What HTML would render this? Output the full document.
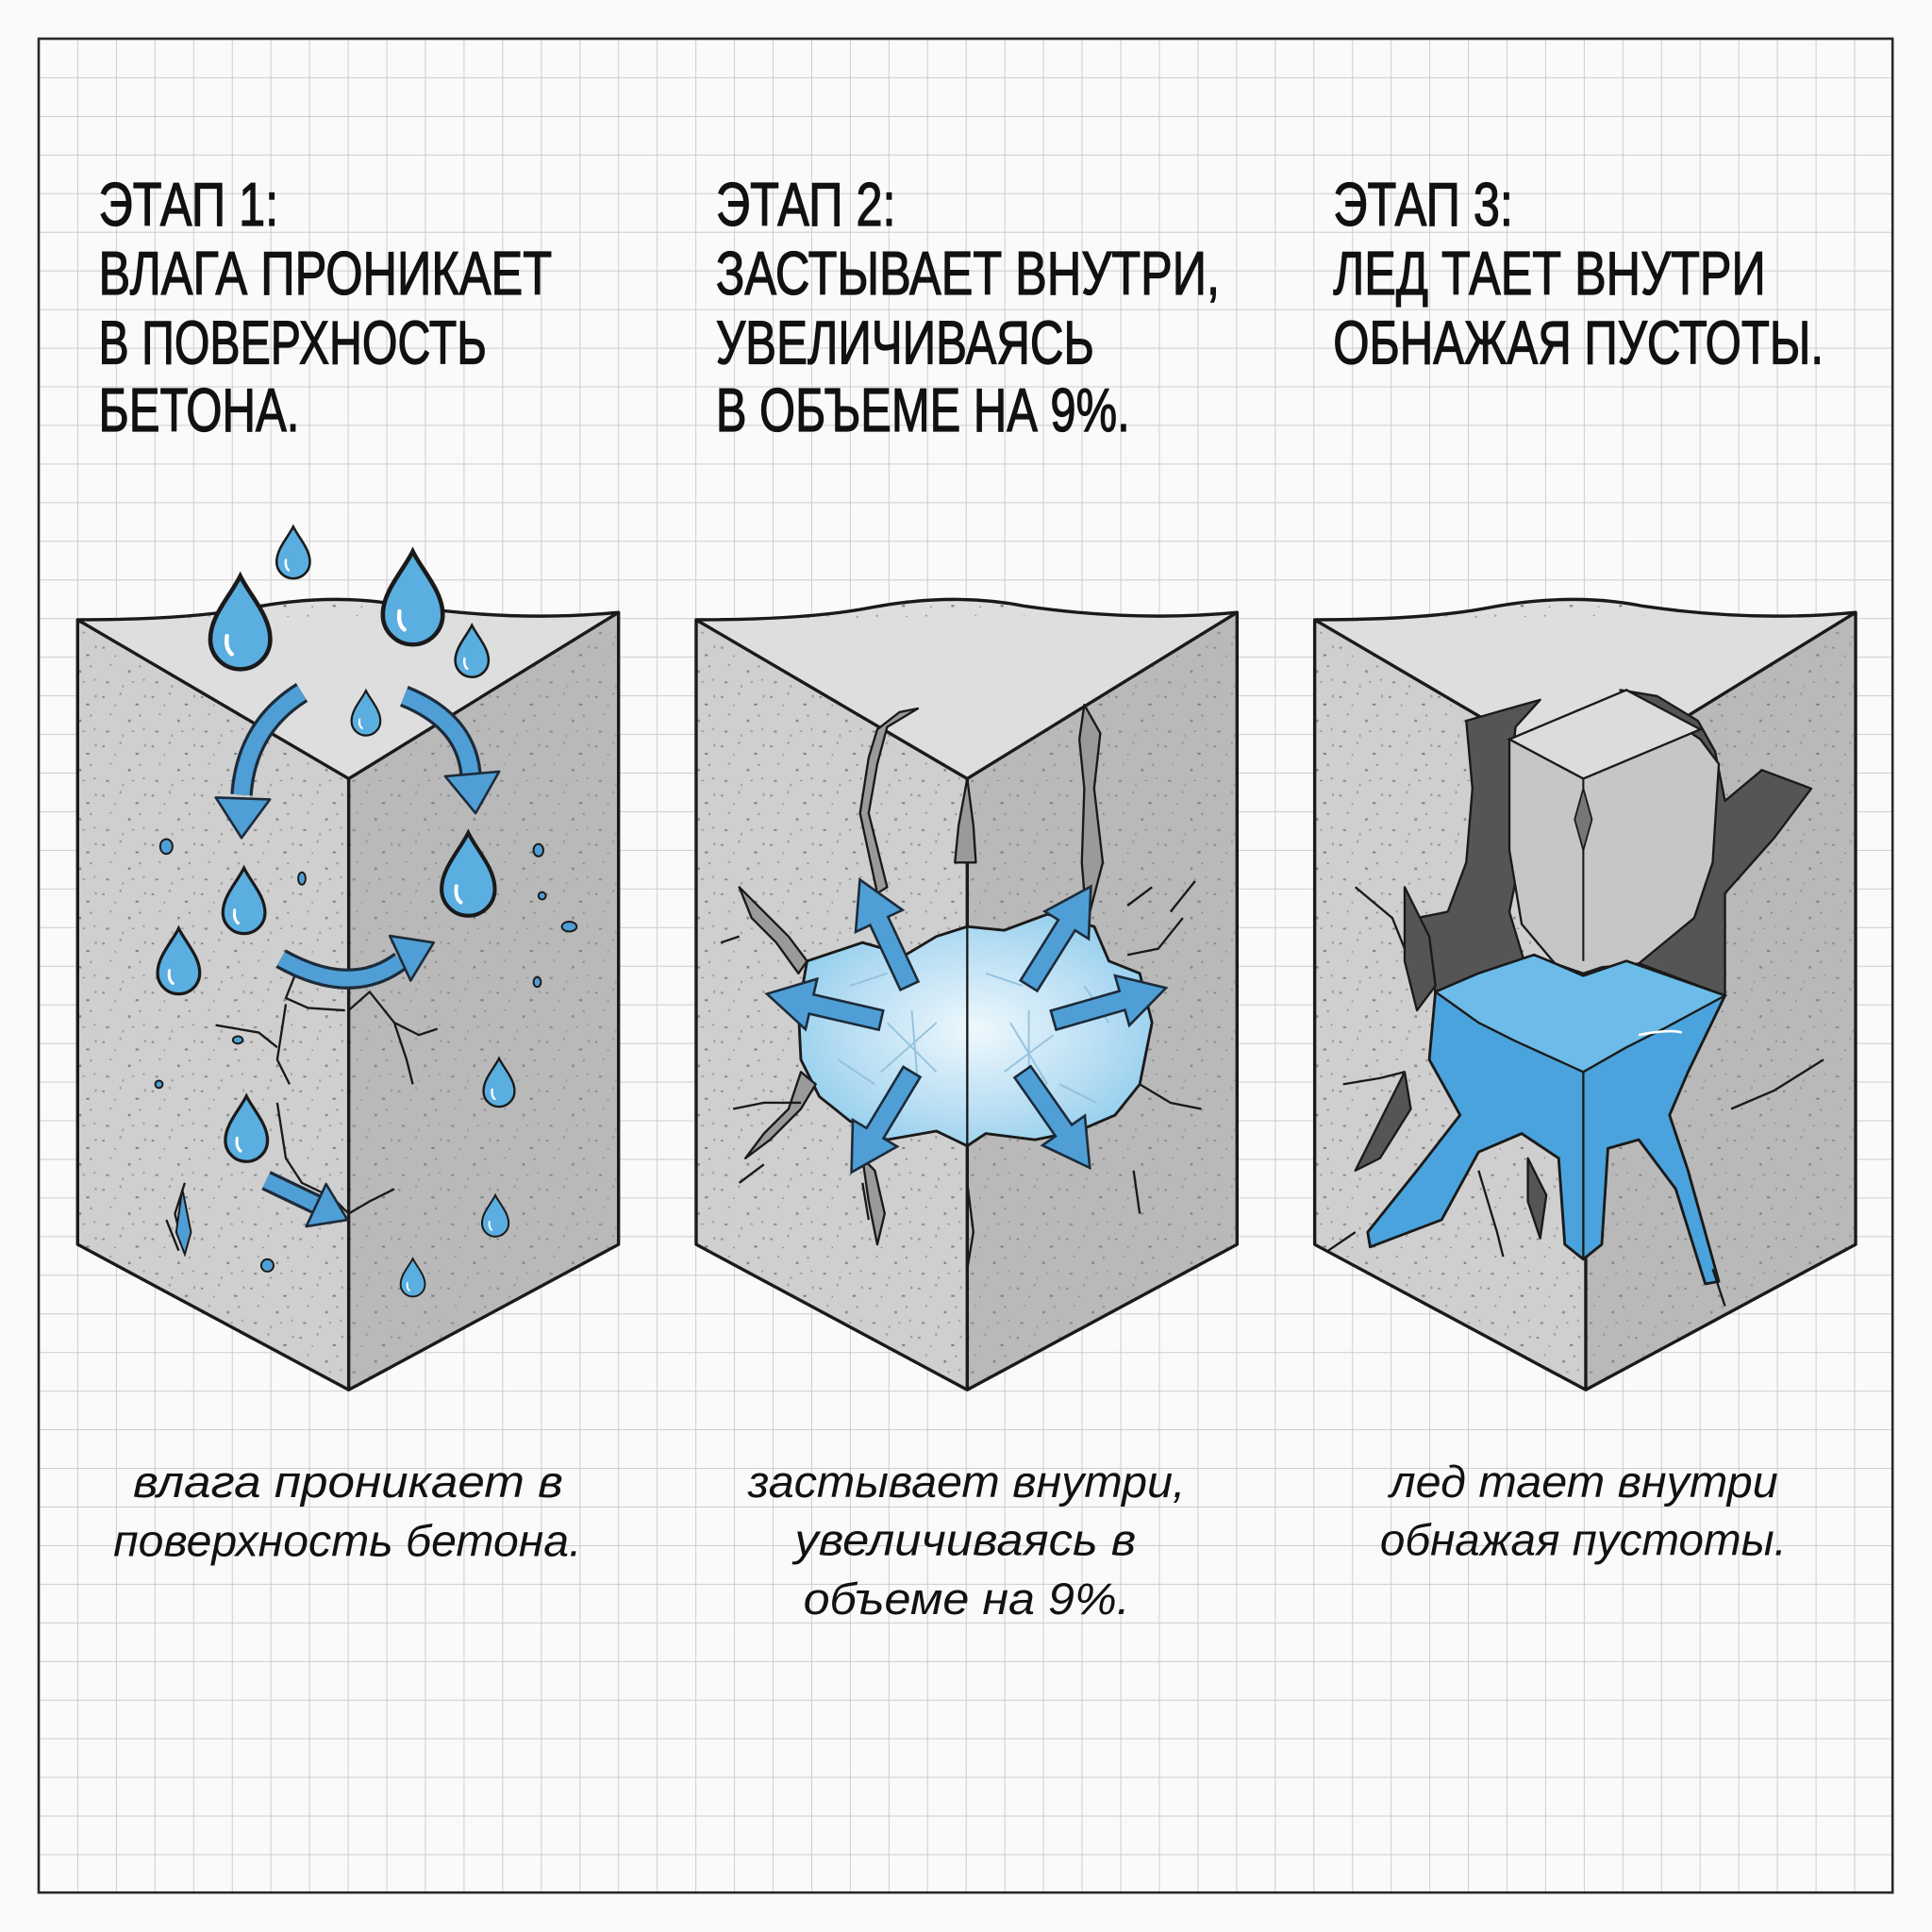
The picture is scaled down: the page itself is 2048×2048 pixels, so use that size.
<!DOCTYPE html>
<html><head><meta charset="utf-8">
<style>
html,body{margin:0;padding:0;background:#fafafa;}
svg{display:block;}
.t{font-family:"Liberation Sans Narrow","Liberation Sans",sans-serif;font-size:50px;fill:#111;stroke:#111;stroke-width:1;}
.c{font-family:"Liberation Sans",sans-serif;font-style:italic;font-size:36px;fill:#111;}
</style></head><body>
<svg width="2048" height="2048" viewBox="0 0 1568 1568" xmlns="http://www.w3.org/2000/svg">
<defs>
<pattern id="grid" x="31.4" y="31.4" width="31.35" height="31.35" patternUnits="userSpaceOnUse">
<path d="M0,0 H31.35 M0,0 V31.35" stroke="#cfcccf" stroke-width="1.5" fill="none"/>
</pattern>
<pattern id="spk" width="40" height="40" patternUnits="userSpaceOnUse">
<rect x="3" y="5" width="2" height="1.5" fill="#8a8a8a"/>
<rect x="17" y="2" width="1.5" height="2" fill="#9a9a9a"/>
<rect x="30" y="11" width="2.5" height="1.5" fill="#7d7d7d"/>
<rect x="9" y="19" width="1.5" height="1.5" fill="#999"/>
<rect x="24" y="24" width="2" height="2" fill="#888"/>
<rect x="36" y="31" width="1.5" height="1.5" fill="#999"/>
<rect x="6" y="33" width="2.5" height="1.5" fill="#8a8a8a"/>
<rect x="19" y="36" width="1.5" height="2" fill="#a0a0a0"/>
<rect x="33" y="20" width="1.5" height="1.5" fill="#8c8c8c"/>
<rect x="13" y="12" width="1" height="1" fill="#777"/>
<rect x="27" y="33" width="2" height="1" fill="#8f8f8f"/>
<rect x="37" y="4" width="1.5" height="2" fill="#999"/>
</pattern>
<radialGradient id="ice" cx="50%" cy="50%" r="60%">
<stop offset="0" stop-color="#eef8fd"/><stop offset="0.6" stop-color="#b8def3"/><stop offset="1" stop-color="#8ccbec"/>
</radialGradient>
<g id="drop"><path d="M0,-30 C6,-18 18,-6 18,8 A18,18 0 0 1 -18,8 C-18,-6 -6,-18 0,-30Z" fill="#5aaee0" stroke="#1a1a1a" stroke-width="2.6"/><path d="M-8,6 Q-9,14 -5,17" stroke="#fff" stroke-width="2.5" fill="none" stroke-linecap="round"/></g>
<g id="blk">
<path d="M63,503 L283,632 L283,1128 L63,1010Z" fill="#cfcfcf"/>
<path d="M283,632 L502,497 L502,1010 L283,1128Z" fill="#b9b9b9"/>
<path d="M63,503 Q150,503 200,494 Q270,480 330,492 Q420,505 502,497 L283,632Z" fill="#dedede"/>
<path d="M63,503 L283,632 L283,1128 L63,1010Z M283,632 L502,497 L502,1010 L283,1128Z M63,503 Q150,503 200,494 Q270,480 330,492 Q420,505 502,497" fill="url(#spk)"/>
<path d="M63,503 Q150,503 200,494 Q270,480 330,492 Q420,505 502,497 L502,1010 L283,1128 L63,1010Z M63,503 L283,632 L502,497 M283,632 L283,1128" fill="none" stroke="#1a1a1a" stroke-width="2.6" stroke-linejoin="round"/>
</g>
<g id="arw"><polygon points="0,-8 58,-8 58,-21 95,0 58,21 58,8 0,8" fill="#4f9fd6" stroke="#1d2b3a" stroke-width="2"/></g>
</defs>
<rect width="1568" height="1568" fill="#fafafa"/>
<rect x="31.4" y="31.4" width="1504.6" height="1504.6" fill="url(#grid)"/>
<rect x="31.4" y="31.4" width="1504.6" height="1504.6" fill="none" stroke="#2a2a2a" stroke-width="2"/>

<text class="t" x="80" y="183" textLength="146" lengthAdjust="spacingAndGlyphs">ЭТАП 1:</text>
<text class="t" x="80" y="239" textLength="368" lengthAdjust="spacingAndGlyphs">ВЛАГА ПРОНИКАЕТ</text>
<text class="t" x="80" y="295" textLength="315" lengthAdjust="spacingAndGlyphs">В ПОВЕРХНОСТЬ</text>
<text class="t" x="80" y="350" textLength="163" lengthAdjust="spacingAndGlyphs">БЕТОНА.</text>
<text class="t" x="581" y="183" textLength="146" lengthAdjust="spacingAndGlyphs">ЭТАП 2:</text>
<text class="t" x="581" y="239" textLength="409" lengthAdjust="spacingAndGlyphs">ЗАСТЫВАЕТ ВНУТРИ,</text>
<text class="t" x="581" y="295" textLength="307" lengthAdjust="spacingAndGlyphs">УВЕЛИЧИВАЯСЬ</text>
<text class="t" x="581" y="350" textLength="336" lengthAdjust="spacingAndGlyphs">В ОБЪЕМЕ НА 9%.</text>
<text class="t" x="1082" y="183" textLength="146" lengthAdjust="spacingAndGlyphs">ЭТАП 3:</text>
<text class="t" x="1082" y="239" textLength="351" lengthAdjust="spacingAndGlyphs">ЛЕД ТАЕТ ВНУТРИ</text>
<text class="t" x="1082" y="295" textLength="398" lengthAdjust="spacingAndGlyphs">ОБНАЖАЯ ПУСТОТЫ.</text>

<use href="#blk"/>
<g fill="none" stroke="#1a1a1a" stroke-width="1.8">
<path d="M240,790 L232,810 L250,818 L280,820 M175,832 L210,838 L225,850 M232,815 L225,860 L235,880 M283,820 L300,805 L320,830 L340,840 L355,835 M320,830 L330,860 L335,880"/>
<path d="M225,895 L232,940 L245,960 L270,972 L283,985 M283,985 L300,975 L320,965"/>
<path d="M150,960 L142,985 L148,1010 M135,990 L145,1015"/>
</g>
<path d="M148,965 L143,1000 L150,1018 L155,1000Z" fill="#4f9fd6" stroke="#1a1a1a" stroke-width="1.5"/>
<g fill="none" stroke-linecap="butt">
<path d="M245,562 Q200,590 196,645" stroke="#1d2b3a" stroke-width="18"/>
<path d="M245,562 Q200,590 196,645" stroke="#4f9fd6" stroke-width="13"/>
<path d="M328,565 Q378,585 382,628" stroke="#1d2b3a" stroke-width="18"/>
<path d="M328,565 Q378,585 382,628" stroke="#4f9fd6" stroke-width="13"/>
<path d="M228,778 Q285,810 325,780" stroke="#1d2b3a" stroke-width="17"/>
<path d="M228,778 Q285,810 325,780" stroke="#4f9fd6" stroke-width="12"/>
<path d="M216,958 L262,980" stroke="#1d2b3a" stroke-width="17"/>
<path d="M216,958 L262,980" stroke="#4f9fd6" stroke-width="12"/>
</g>
<g fill="#4f9fd6" stroke="#1d2b3a" stroke-width="2" stroke-linejoin="round">
<polygon points="-32,-22 0,0 -32,22" transform="translate(196,680) rotate(92)"/>
<polygon points="-32,-22 0,0 -32,22" transform="translate(386,660) rotate(85)"/>
<polygon points="-30,-20 0,0 -30,20" transform="translate(352,765) rotate(-25)"/>
<polygon points="-28,-19 0,0 -28,19" transform="translate(282,990) rotate(25)"/>
</g>
<use href="#drop" transform="translate(195,508) scale(1.35)"/>
<use href="#drop" transform="translate(238,450) scale(0.75)"/>
<use href="#drop" transform="translate(335,488) scale(1.35)"/>
<use href="#drop" transform="translate(383,530) scale(0.75)"/>
<use href="#drop" transform="translate(297,580) scale(0.65)"/>
<use href="#drop" transform="translate(380,712) scale(1.2)"/>
<use href="#drop" transform="translate(198,733) scale(0.95)"/>
<use href="#drop" transform="translate(145,782) scale(0.95)"/>
<use href="#drop" transform="translate(405,880) scale(0.7)"/>
<use href="#drop" transform="translate(200,918) scale(0.95)"/>
<use href="#drop" transform="translate(402,988) scale(0.6)"/>
<use href="#drop" transform="translate(335,1038) scale(0.55)"/>
<g fill="#4f9fd6" stroke="#1a1a1a" stroke-width="1.5">
<ellipse cx="135" cy="687" rx="5" ry="6"/><ellipse cx="245" cy="713" rx="3" ry="5"/><ellipse cx="437" cy="690" rx="4" ry="5"/>
<ellipse cx="462" cy="752" rx="6" ry="4"/><ellipse cx="436" cy="797" rx="3" ry="4"/><ellipse cx="217" cy="1027" rx="5" ry="5"/>
<ellipse cx="193" cy="844" rx="4" ry="3"/><ellipse cx="129" cy="880" rx="3" ry="3"/><ellipse cx="440" cy="727" rx="3" ry="3"/>
</g>

<g transform="translate(502,0)"><use href="#blk"/></g>
<path d="M655,780 L700,765 L735,775 L760,760 L785,752 L815,755 L850,742 L888,752 L900,780 L925,790 L935,830 L925,880 L905,905 L875,918 L840,925 L800,920 L785,930 L760,918 L720,925 L690,910 L665,890 L650,860 L648,820Z" fill="url(#ice)" stroke="#1a1a1a" stroke-width="2.2"/>
<g stroke="#8fbfdc" stroke-width="1.5" fill="none" opacity="0.9">
<path d="M720,830 L760,870 M740,820 L745,880 M760,830 L715,870 M820,830 L850,880 M835,820 L835,885 M855,840 L815,870 M690,800 L720,790 M880,800 L900,830 M680,860 L710,880 M860,880 L890,895 M800,790 L830,800"/>
</g>
<path d="M785,752 L785,930" stroke="#1a1a1a" stroke-width="1.8"/>
<g fill="#9a9a9a" stroke="#1a1a1a" stroke-width="1.8" stroke-linejoin="round">
<path d="M712,592 L730,578 L745,575 L720,590 L712,620 L705,660 L720,720 L712,725 L698,660 L705,615Z"/>
<path d="M880,572 L893,595 L888,640 L895,700 L882,750 L878,700 L880,640 L876,600Z"/>
<path d="M600,720 L625,745 L640,760 L655,780 L648,790 L630,765 L610,745Z"/>
<path d="M650,870 L640,900 L620,920 L605,940 L625,925 L650,900 L662,880Z"/>
<path d="M700,940 L705,975 L712,1010 L718,985 L710,950Z"/>
<path d="M785,632 L778,670 L775,700 L792,700 L790,670Z"/>
</g>
<g fill="none" stroke="#1a1a1a" stroke-width="1.8">
<path d="M595,900 L620,895 L650,895 M600,960 L620,945 M925,880 L950,895 L975,900 M915,775 L940,770 L960,745 M950,740 L970,715 M920,950 L925,985 M785,960 L790,1000 L785,1030 M915,735 L935,720 M600,760 L585,765 M700,960 L705,990"/>
</g>
<use href="#arw" transform="translate(738,800) rotate(-115)"/>
<use href="#arw" transform="translate(835,800) rotate(-58)"/>
<use href="#arw" transform="translate(715,828) rotate(-167)"/>
<use href="#arw" transform="translate(855,828) rotate(-16)"/>
<use href="#arw" transform="translate(740,870) rotate(121)"/>
<use href="#arw" transform="translate(830,870) rotate(55)"/>

<g transform="translate(1004,0)"><use href="#blk"/></g>
<g fill="#555" stroke="#1a1a1a" stroke-width="1.8" stroke-linejoin="round">
<path d="M1190,585 L1225,575 L1250,568 L1230,590 L1225,640 L1235,690 L1225,740 L1240,790 L1165,805 L1150,745 L1175,740 L1190,700 L1195,640Z"/>
<path d="M1315,560 L1345,565 L1378,585 L1392,610 L1400,650 L1430,625 L1470,640 L1440,680 L1400,725 L1400,808 L1325,780 L1365,745 L1375,700 L1380,650 L1370,610 L1350,590Z"/>
<path d="M1140,720 L1160,760 L1165,800 L1150,820 L1140,780Z"/>
<path d="M1140,870 L1125,900 L1100,950 L1120,940 L1145,900Z"/>
<path d="M1240,940 L1255,970 L1250,1005 L1240,975Z"/>
</g>
<path d="M1225,600 L1290,580 L1320,560 L1380,600 L1395,620 L1390,700 L1375,745 L1330,782 L1300,785 L1285,790 L1262,782 L1235,750 L1225,690Z" fill="#c6c6c6" stroke="#1a1a1a" stroke-width="1.8"/>
<path d="M1225,600 L1285,632 L1380,592 L1320,560 Z" fill="#dcdcdc" stroke="#1a1a1a" stroke-width="1.8"/>
<path d="M1285,632 L1285,780" stroke="#1a1a1a" stroke-width="1.6"/>
<path d="M1285,640 L1278,665 L1285,690 L1292,665Z" fill="#777" stroke="#1a1a1a" stroke-width="1.4"/>
<path d="M1165,805 L1200,790 L1245,775 L1262,782 L1285,792 L1320,780 L1400,808 L1370,870 L1355,905 L1370,950 L1395,1040 L1384,1042 L1360,965 L1330,925 L1305,932 L1300,1010 L1285,1022 L1270,1010 L1265,940 L1235,920 L1200,935 L1170,990 L1112,1012 L1110,1000 L1150,950 L1185,905 L1160,860Z" fill="#4aa3dc" stroke="#1a1a1a" stroke-width="2.2" stroke-linejoin="round"/>
<path d="M1165,805 L1200,790 L1245,775 L1262,782 L1285,792 L1320,780 L1400,808 L1350,835 L1320,850 L1285,870 L1230,845 L1200,830Z" fill="#6cbbe8" stroke="#1a1a1a" stroke-width="1.8"/>
<path d="M1285,870 L1285,1022" stroke="#1a1a1a" stroke-width="1.8"/>
<path d="M1330,840 Q1355,835 1365,838" stroke="#fff" stroke-width="2" fill="none"/>
<g fill="none" stroke="#1a1a1a" stroke-width="1.8">
<path d="M1100,720 L1130,745 L1140,770 M1090,880 L1120,875 L1140,870 M1480,860 L1440,885 L1405,900 M1200,950 L1215,1000 L1220,1020 M1390,1030 L1400,1060 M1078,1015 L1100,1000"/>
</g>

<text class="c" x="108" y="1215" textLength="349" lengthAdjust="spacingAndGlyphs">влага проникает в</text>
<text class="c" x="92" y="1263" textLength="380" lengthAdjust="spacingAndGlyphs">поверхность бетона.</text>
<text class="c" x="607" y="1215" textLength="355" lengthAdjust="spacingAndGlyphs">застывает внутри,</text>
<text class="c" x="645" y="1262" textLength="277" lengthAdjust="spacingAndGlyphs">увеличиваясь в</text>
<text class="c" x="652" y="1310" textLength="265" lengthAdjust="spacingAndGlyphs">объеме на 9%.</text>
<text class="c" x="1128" y="1215" textLength="315" lengthAdjust="spacingAndGlyphs">лед тает внутри</text>
<text class="c" x="1120" y="1262" textLength="330" lengthAdjust="spacingAndGlyphs">обнажая пустоты.</text>
</svg>
</body></html>
